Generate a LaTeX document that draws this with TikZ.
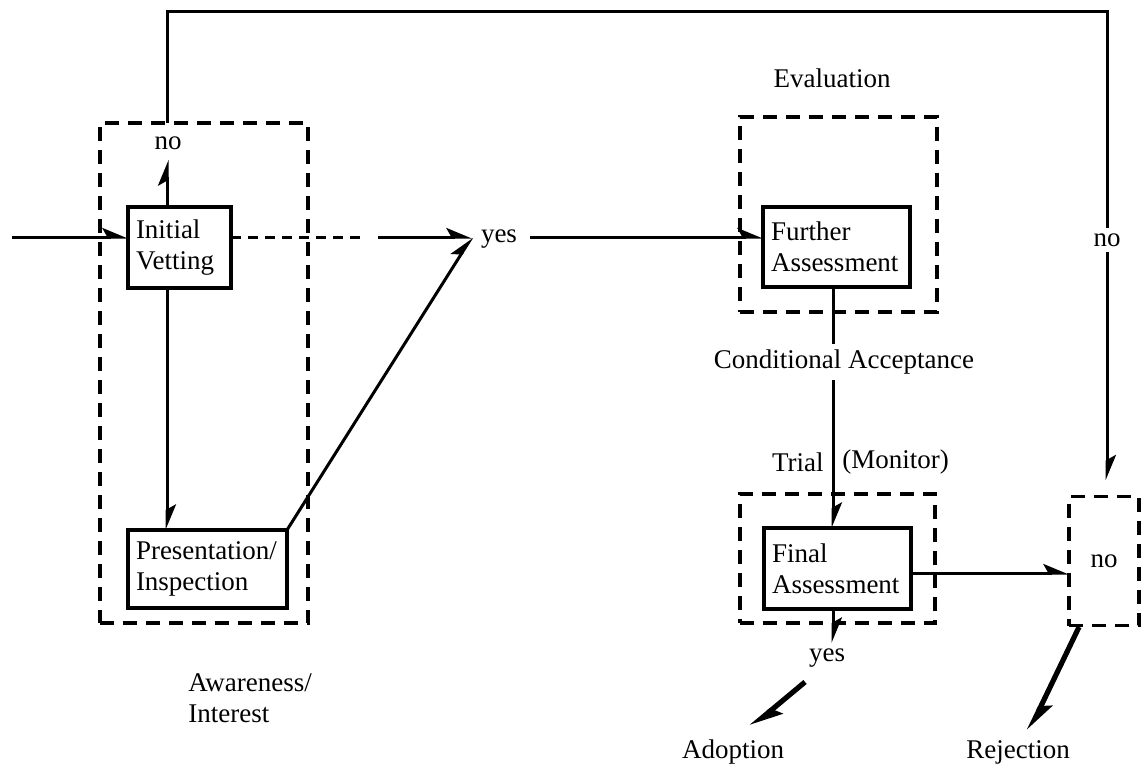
\documentclass[tikz,border=0pt]{standalone}
\usepackage{fontspec}
\setmainfont{Liberation Serif}
\usetikzlibrary{arrows.meta}
\begin{document}
\begin{tikzpicture}[x=0.5pt,y=-0.5pt,
  txt/.style={font=\fontsize{13.5}{15.5}\selectfont, inner sep=1pt},
  stage/.style={draw, line width=1.6pt, txt, align=left, inner sep=4pt, outer sep=0pt},
  group/.style={draw, line width=1.9pt, dash pattern=on 7pt off 4.5pt, outer sep=0pt, txt},
  link/.style={line width=1.5pt},
  arr/.style={link, -{Stealth[harpoon,length=11pt,width=9pt,inset=2.5pt]}},
  bigarr/.style={line width=2.6pt, -{Stealth[harpoon,length=13pt,width=10pt,inset=2.5pt]}},
  cut/.style={txt, fill=white, inner sep=3pt}]
\useasboundingbox (0,0) rectangle (1141,766);

% stage boxes
\node[stage, text width=43.5pt, minimum height=40.5pt] (iv) at (179.5,247.5) {Initial\\Vetting};
\node[stage, text width=71.5pt, minimum height=39pt] (pi) at (207.5,569) {Presentation/\\Inspection};
\node[stage, text width=65.5pt, minimum height=40pt] (fa) at (836.5,247) {Further\\Assessment};
\node[stage, text width=65.5pt, minimum height=40.5pt] (fin) at (837.5,568.5) {Final\\Assessment};

% dashed phase frames
\node[group, minimum width=104pt, minimum height=250pt] (g1) at (204,373) {};
\node[group, minimum width=98.5pt, minimum height=97.5pt] (g2) at (838.5,214.5) {};
\node[group, minimum width=97.5pt, minimum height=64.5pt] (g3) at (837.5,558.5) {};
\node[group, minimum width=35pt, minimum height=64.5pt, text depth=0pt] (g4) at (1104,561) {no};

% labels
\node[txt] (evl) at (832,78) {Evaluation};
\node[txt, anchor=north west, align=left] (awr) at (186,671) {Awareness/\\Interest};
\node[txt] (noA) at (168,143) {no};
\node[txt] (yes1) at (499,239) {yes};
\node[txt] (yes2) at (827,658) {yes};
\node[txt] (adop) at (733,752) {Adoption};
\node[txt] (rej) at (1018,752) {Rejection};

% helper points
\coordinate (in) at (12,237);
\coordinate (noTip) at (167,160);
\coordinate (dashEnd) at (366,237);
\coordinate (solidStart) at (378,237);
\coordinate (meet) at (472,237);
\coordinate (yesR) at (530,237);
\coordinate (fx) at (833,300);
\coordinate (tl) at (167,11);
\coordinate (tr) at (1107,11);
\coordinate (r1) at (1069,573);
\coordinate (yesTip) at (833,643);
\coordinate (adS) at (805,682);
\coordinate (adE) at (751,727);
\coordinate (rjS) at (1079,627);
\coordinate (rjE) at (1029,731);

% awareness / interest stage
\draw[arr] (in) -- (iv.west |- in);
\draw[arr] (iv.north -| noTip) -- (noTip);
\draw[arr] (iv.south -| noTip) -- (pi.north -| noTip);
\draw[link, dash pattern=on 5pt off 3.5pt] (iv.east |- in) -- (dashEnd);
\draw[arr] (solidStart) -- (meet);
\draw[arr] (pi.north east) -- (meet);

% evaluation stage
\draw[arr] (yesR) -- (fa.west |- yesR);
\draw[arr] (fa.south -| fx) -- (fin.north -| fx);
\node[cut] (cond) at (844,362) {Conditional Acceptance};
\node[txt, anchor=east] (trial) at (826,462) {Trial};
\node[txt, anchor=west] (mon) at (840,462) {(Monitor)};

% rejection loop over the top
\draw[arr] (g1.north -| tl) -- (tl) -- (tr) -- ([yshift=8pt]g4.north -| tr);
\node[cut] (noB) at (1107,240) {no};

% outcomes
\draw[arr] (fin.east |- r1) -- (r1);
\draw[arr] (fin.south -| yesTip) -- (yesTip);
\draw[bigarr] (adS) -- (adE);
\draw[bigarr] (rjS) -- (rjE);
\end{tikzpicture}
\end{document}
